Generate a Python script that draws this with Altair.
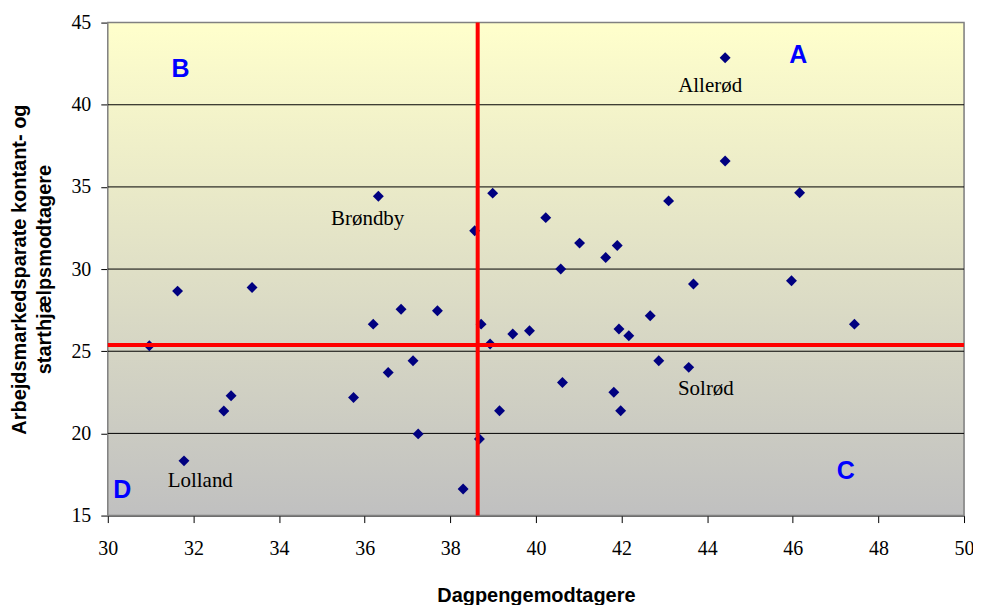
import altair as alt
import pandas as pd

# Data points (Dagpengemodtagere, Arbejdsmarkedsparate kontant- og starthjælpsmodtagere)
x_vals = [36.32, 38.99, 38.57, 40.23,
          44.42, 44.42, 46.16, 43.10, 41.02, 41.90, 41.63, 40.58,
          30.97, 31.63, 33.37, 31.78, 32.71, 32.88, 35.74, 36.20, 36.85, 37.70,
          36.55, 37.13, 37.25, 38.30, 38.68, 38.72, 38.93, 39.15, 39.46, 39.85,
          43.68, 45.97, 47.44, 41.94, 42.17, 42.67, 42.87, 43.57, 40.62, 41.82, 41.98]
y_vals = [34.43, 34.62, 32.33, 33.13,
          42.86, 36.58, 34.65, 34.15, 31.58, 31.43, 30.70, 30.00,
          25.33, 28.66, 28.88, 18.33, 21.36, 22.29, 22.19, 26.65, 27.56, 27.46,
          23.71, 24.42, 19.97, 16.62, 19.66, 26.65, 25.44, 21.38, 26.05, 26.25,
          29.09, 29.29, 26.65, 26.35, 25.94, 27.16, 24.42, 24.02, 23.10, 22.50, 21.38]

# Named municipalities (label text and where it sits)
names = ["Allerød", "Brøndby", "Solrød", "Lolland"]
name_x = [44.07, 36.07, 43.97, 32.16]
name_y = [41.14, 33.05, 22.72, 17.13]

# Quadrant letters
quad = ["A", "B", "C", "D"]
quad_x = [46.13, 31.70, 47.24, 30.34]
quad_y = [43.05, 42.19, 17.69, 16.58]

# Averages (red lines)
mean_x = [38.64]
mean_y = [25.38]

grid_vals = [20, 25, 30, 35, 40]
x_ticks = list(range(30, 51, 2))
y_ticks = list(range(15, 46, 5))
x_domain = [30, 50]
y_domain = [15, 45]

x_title = "Dagpengemodtagere"
y_title = ["Arbejdsmarkedsparate kontant- og", "starthjælpsmodtagere"]

SERIF = "Liberation Serif, Times New Roman, serif"

pts = pd.DataFrame({"x": x_vals, "y": y_vals})
lbl = pd.DataFrame({"name": names, "x": name_x, "y": name_y})
qd = pd.DataFrame({"q": quad, "x": quad_x, "y": quad_y})
grid = pd.DataFrame({"g": grid_vals})
mx = pd.DataFrame({"m": mean_x})
my = pd.DataFrame({"m": mean_y})

xscale = alt.Scale(domain=x_domain, nice=False, zero=False)
yscale = alt.Scale(domain=y_domain, nice=False, zero=False)

x_axis = alt.Axis(values=x_ticks, title=x_title, labelFont=SERIF)
y_axis = alt.Axis(values=y_ticks, title=y_title, labelFont=SERIF)

gradient = alt.LinearGradient(
    gradient="linear", x1=0, y1=0, x2=0, y2=1,
    stops=[alt.GradientStop(offset=0, color="#FFFFCC"),
           alt.GradientStop(offset=1, color="#C0C0C0")],
)

bg = alt.Chart(pd.DataFrame({"a": [0]})).mark_rect(
    color=gradient, stroke="#808080", strokeWidth=1.5
).encode(
    x=alt.X("a:Q", scale=xscale, axis=x_axis),
    x2=alt.datum(x_domain[1]),
    y=alt.datum(y_domain[1], scale=yscale, axis=y_axis),
    y2=alt.datum(y_domain[0]),
).transform_calculate(a=str(x_domain[0]))

grid_layer = alt.Chart(grid).mark_rule(color="black", strokeWidth=1).encode(
    y=alt.Y("g:Q", scale=yscale, axis=y_axis)
)

points = alt.Chart(pts).mark_point(
    shape="diamond", filled=True, color="#000080", size=120, opacity=1
).encode(
    x=alt.X("x:Q", scale=xscale, axis=x_axis),
    y=alt.Y("y:Q", scale=yscale, axis=y_axis),
)

vline = alt.Chart(mx).mark_rule(color="#FF0000", strokeWidth=4).encode(
    x=alt.X("m:Q", scale=xscale, axis=x_axis)
)
hline = alt.Chart(my).mark_rule(color="#FF0000", strokeWidth=4).encode(
    y=alt.Y("m:Q", scale=yscale, axis=y_axis)
)

labels = alt.Chart(lbl).mark_text(
    font="Liberation Serif", fontSize=21, color="black", align="center", baseline="middle"
).encode(
    x=alt.X("x:Q", scale=xscale, axis=x_axis),
    y=alt.Y("y:Q", scale=yscale, axis=y_axis),
    text="name:N",
)

quads = alt.Chart(qd).mark_text(
    font="Liberation Sans", fontSize=25, fontWeight="bold", color="#0000FF",
    align="center", baseline="middle"
).encode(
    x=alt.X("x:Q", scale=xscale, axis=x_axis),
    y=alt.Y("y:Q", scale=yscale, axis=y_axis),
    text="q:N",
)

chart = alt.layer(bg, grid_layer, points, vline, hline, labels, quads).properties(
    width=858, height=494,
    autosize=alt.AutoSizeParams(type="none"),
    padding={"left": 100, "top": 14, "right": 9, "bottom": 89},
).configure_view(stroke=None).configure(background="white").configure_axis(
    grid=False, domainColor="black", tickColor="black", tickSize=7,
    labelFont=SERIF, labelFontSize=20, labelColor="black",
    labelFlush=False, labelOverlap=False, zindex=1,
    titleFont="Liberation Sans", titleFontSize=20, titleFontWeight="bold",
    titleColor="black",
).configure_axisX(
    labelPadding=16, titleY=80, titleBaseline="middle",
).configure_axisY(
    labelPadding=10, titleLineHeight=25, titleAngle=270,
    titleX=-88, titleY=247, titleBaseline="middle", titleAlign="center",
)

chart.save("out.html", embed_options={"renderer": "svg", "actions": False})
